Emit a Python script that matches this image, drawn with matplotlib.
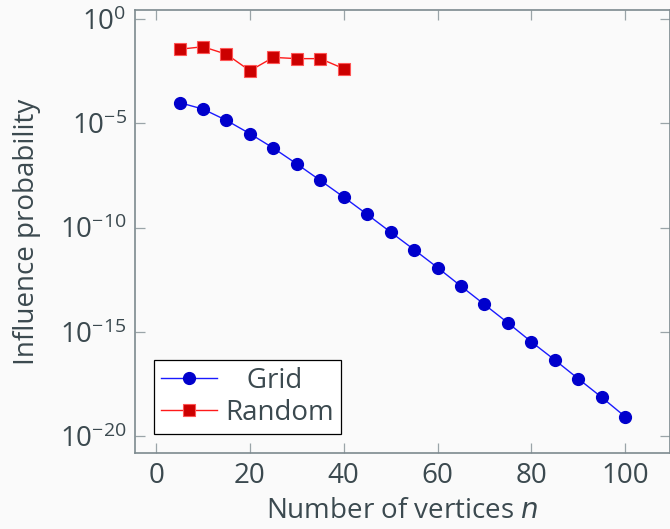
import matplotlib
matplotlib.use("Agg")
import matplotlib.pyplot as plt
import numpy as np

# values (log10 of probability)
n_grid = [5, 10, 15, 20, 25, 30, 35, 40, 45, 50, 55, 60, 65, 70, 75, 80, 85, 90, 95, 100]
grid_exp = [-4.01, -4.32, -4.86, -5.50, -6.19, -6.95, -7.74, -8.54, -9.37, -10.22,
            -11.06, -11.92, -12.81, -13.69, -14.57, -15.48, -16.35, -17.25, -18.14, -19.07]
n_random = [5, 10, 15, 20, 25, 30, 35, 40]
random_exp = [-1.45, -1.33, -1.69, -2.48, -1.84, -1.90, -1.90, -2.38]

grid_p = 10.0 ** np.array(grid_exp)
random_p = 10.0 ** np.array(random_exp)

txt = "#3b494f"
spine = "#7d8a8f"
plt.rcParams["font.family"] = ["Open Sans", "DejaVu Sans"]
plt.rcParams["mathtext.default"] = "regular"

fig = plt.figure(figsize=(6.7, 5.29), dpi=100, facecolor="#fafafa")
ax = fig.add_axes([0.2015, 0.143, 0.798, 0.838], facecolor="#fafafa")

ax.plot(n_grid, grid_p, "-o", color="#1a1aff", lw=1.0, ms=8.5,
        mfc="#0000cc", mec="#0000cc", label="Grid")
ax.plot(n_random, random_p, "-s", color="#ff1a1a", lw=1.0, ms=8.5,
        mfc="#cc0000", mec="#ff5555", mew=0.8, label="Random")

ax.set_yscale("log")
ax.set_xlim(-4.5, 109.5)
ax.set_ylim(10 ** -20.83, 10 ** 0.43)
ax.set_xticks([0, 20, 40, 60, 80, 100])
ax.set_yticks([1e0, 1e-5, 1e-10, 1e-15, 1e-20])
ax.yaxis.set_minor_locator(matplotlib.ticker.NullLocator())

for s in ax.spines.values():
    s.set_color(spine)
    s.set_linewidth(1.2)
ax.tick_params(direction="in", length=7, width=0.9, color="#9aa4a8",
               top=True, right=True, labelsize=20, labelcolor=txt, pad=6)

ax.set_xlabel("Number of vertices $\\it{n}$", fontsize=20, color=txt, labelpad=5)
ax.set_ylabel("Influence probability", fontsize=20, color=txt, labelpad=14)

leg = ax.legend(loc="lower left", fontsize=20, frameon=True, fancybox=False,
                edgecolor="black", facecolor="white", framealpha=1,
                handlelength=2.0, handletextpad=0.3, borderpad=0.25,
                labelspacing=0.15, borderaxespad=0.7)
leg.get_frame().set_linewidth(0.9)
for t in leg.get_texts():
    t.set_color(txt)
leg.get_texts()[0].set_text("   Grid")

fig.savefig("out.png", dpi=100, facecolor=fig.get_facecolor())
